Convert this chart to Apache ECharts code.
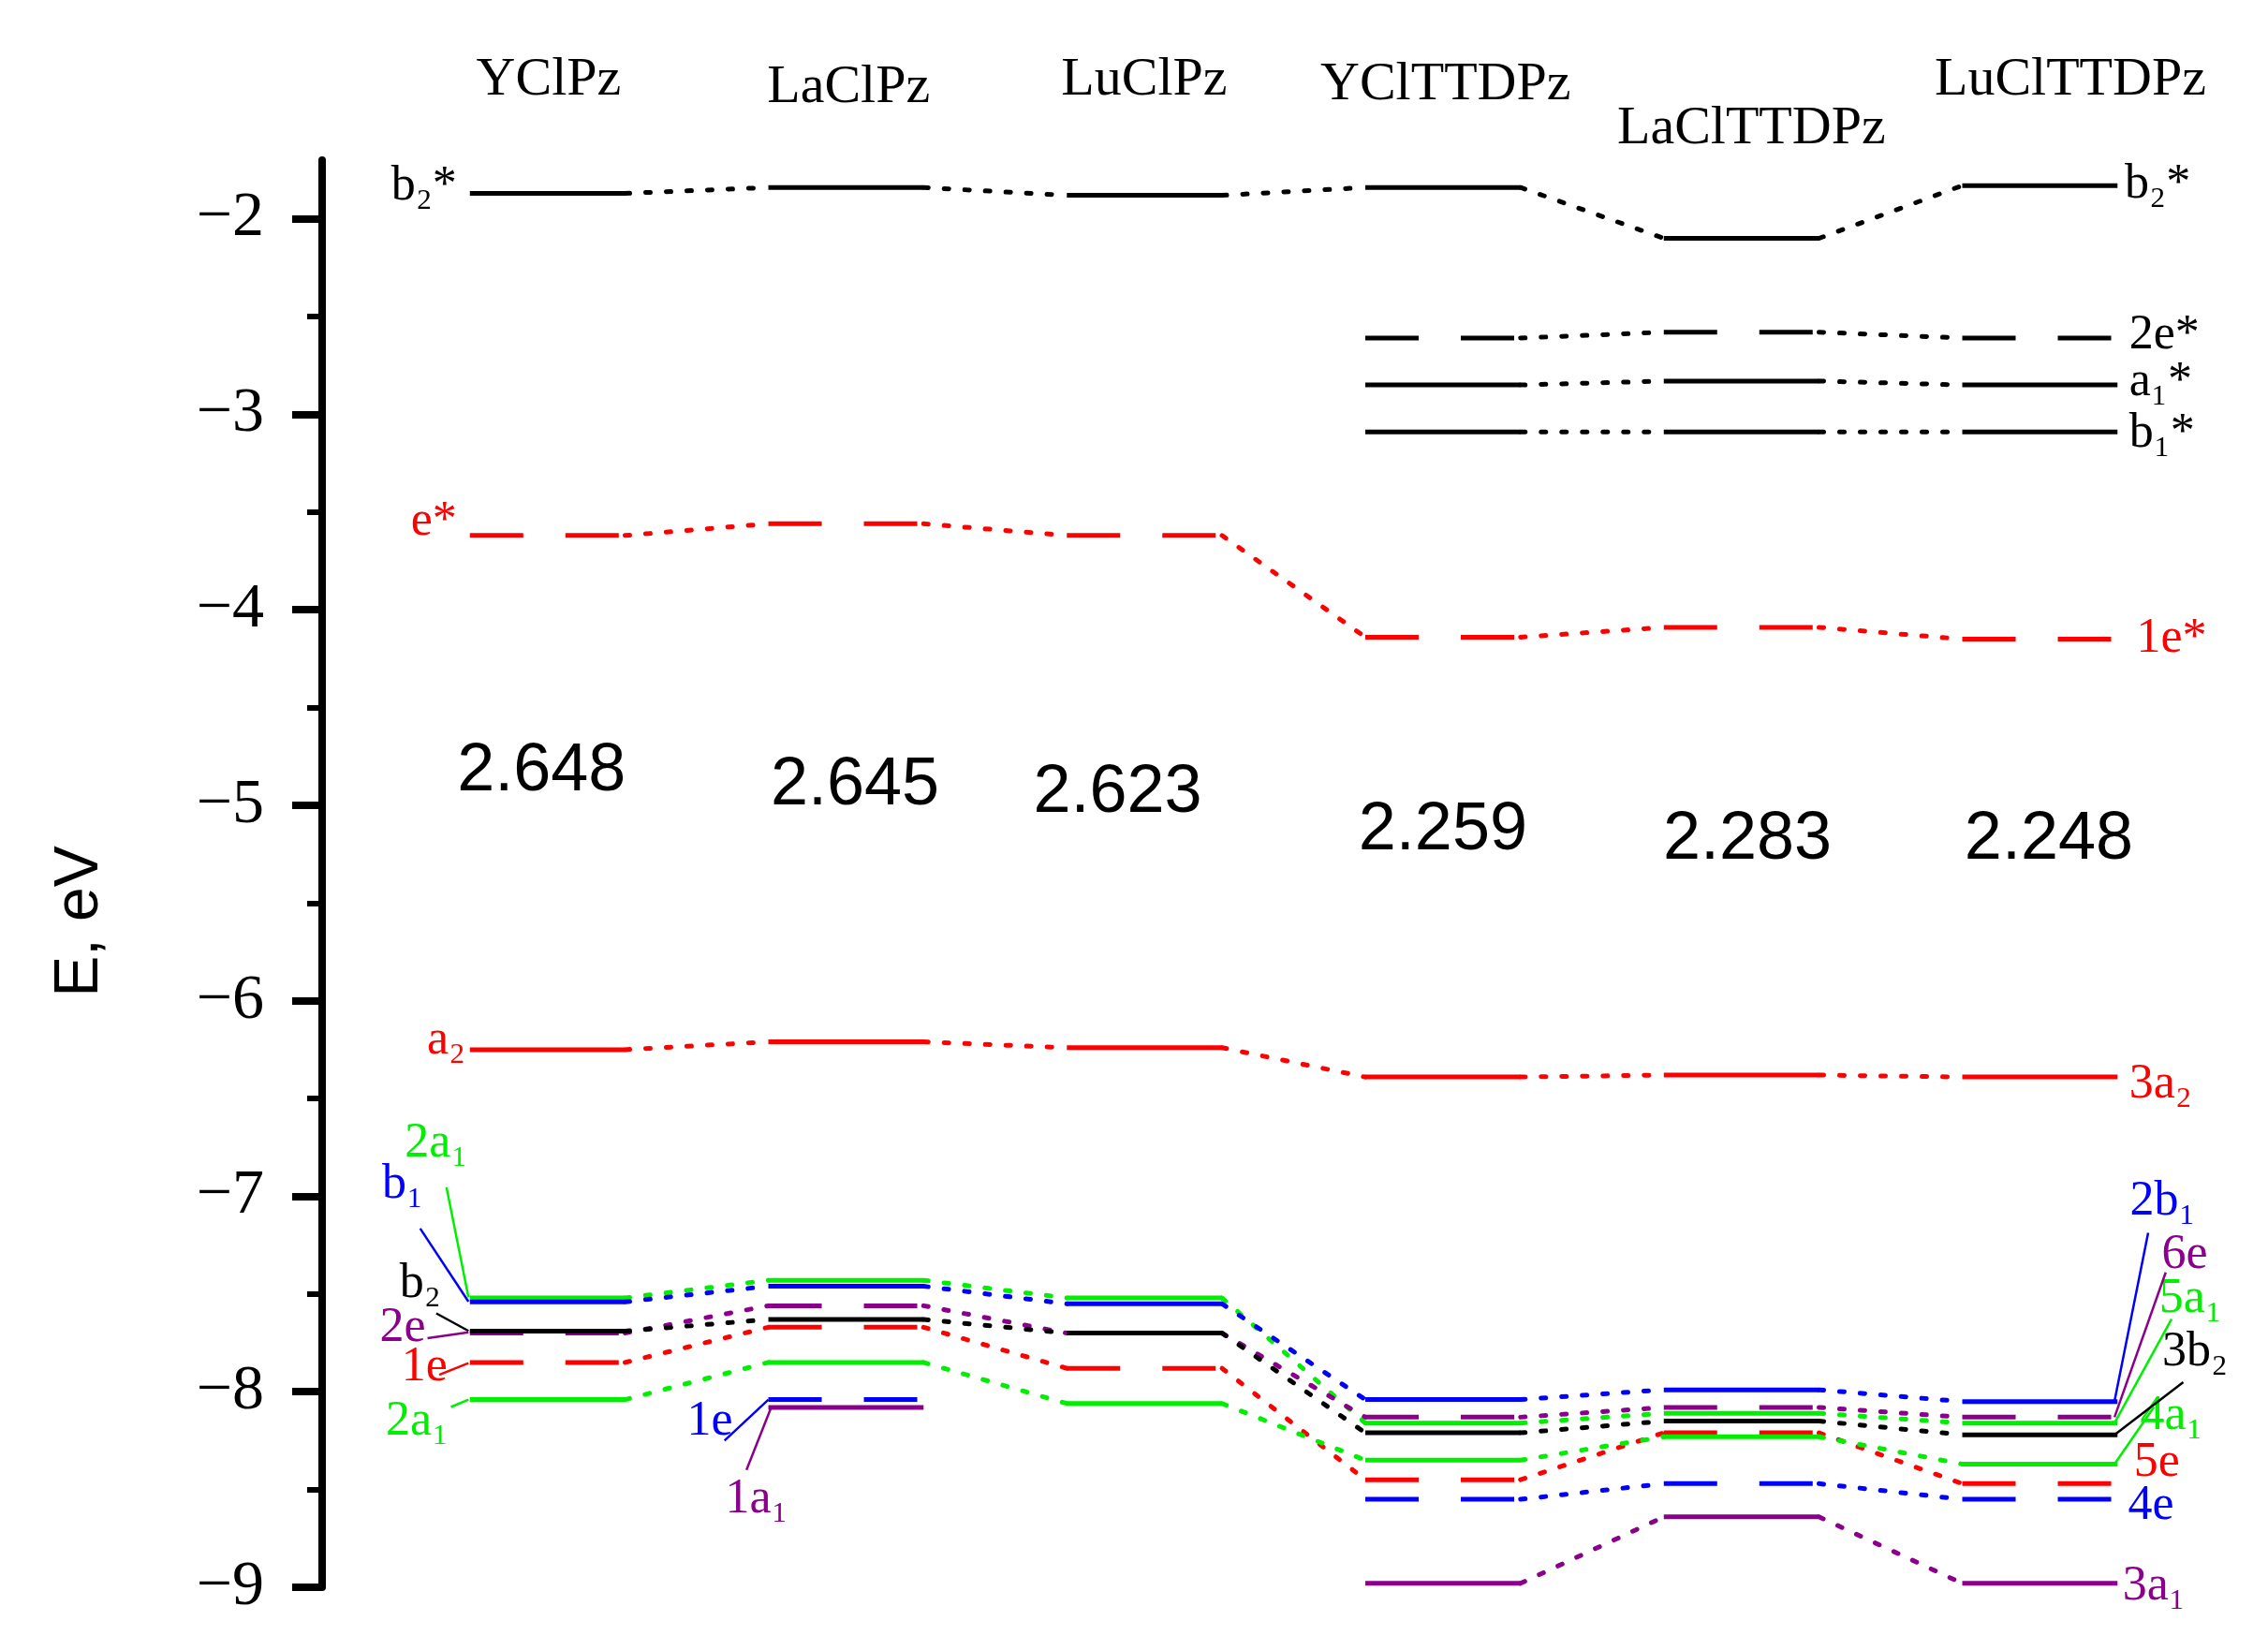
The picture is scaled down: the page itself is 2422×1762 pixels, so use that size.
<!DOCTYPE html>
<html><head><meta charset="utf-8">
<script src="https://cdn.jsdelivr.net/npm/echarts@6/dist/echarts.min.js"></script>
<style>html,body{margin:0;padding:0;background:#fff}#c{width:2422px;height:1762px}</style>
</head><body><div id="c"></div>
<script>
const compounds = ['YClPz','LaClPz','LuClPz','YClTTDPz','LaClTTDPz','LuClTTDPz'];
const gaps = [2.648, 2.645, 2.623, 2.259, 2.283, 2.248];
const gapE = [-4.83, -4.90, -4.94, -5.13, -5.18, -5.18];
const b2star = [-1.87,-1.84,-1.88,-1.84,-2.10,-1.83];
const e2star = [null,null,null,-2.61,-2.58,-2.61];
const a1star = [null,null,null,-2.85,-2.83,-2.85];
const b1star = [null,null,null,-3.09,-3.09,-3.09];
const estar  = [-3.62,-3.56,-3.62,-4.14,-4.09,-4.15];
const a2     = [-6.25,-6.21,-6.24,-6.39,-6.38,-6.39];
const a1up   = [-7.52,-7.43,-7.52,-8.16,-8.11,-8.16];
const b1     = [-7.54,-7.46,-7.55,-8.04,-7.99,-8.05];
const b2     = [-7.69,-7.63,-7.70,-8.21,-8.15,-8.22];
const e2     = [-7.70,-7.56,-7.70,-8.13,-8.08,-8.13];
const e1     = [-7.85,-7.67,-7.88,-8.45,-8.21,-8.47];
const a1low  = [-8.04,-7.85,-8.06,-8.35,-8.23,-8.37];
const e1b    = [null,-8.04,null,-8.55,-8.47,-8.55];
const a1p    = [null,-8.08,null,-8.98,-8.64,-8.98];
const yTicks = [-9,-8,-7,-6,-5,-4,-3,-2];

const BK='#000', RD='#ff0000', GR='#00ee00', BL='#0000ff', PU='#8b008b';
const orbitals = [
 [b2star,BK,false],[e2star,BK,true],[a1star,BK,false],[b1star,BK,false],
 [estar,RD,true],[a2,RD,false],[a1up,GR,false],[b1,BL,false],[e2,PU,true],[b2,BK,false],
 [e1,RD,true],[a1low,GR,false],[e1b,BL,true],[a1p,PU,false]
];
const HW = 0.26;
const series = [];
orbitals.forEach(([vals,col,dash])=>{
  vals.forEach((v,i)=>{
    if(v==null) return;
    series.push({type:'line',data:[[i-HW,v],[i+HW,v]],symbol:'none',silent:true,
      lineStyle:{color:col,width:5,type:dash?[57,45]:'solid'}});
    const n = vals[i+1];
    if(i<5 && n!=null){
      series.push({type:'line',data:[[i+HW,v],[i+1-HW,n]],symbol:'none',silent:true,
        lineStyle:{color:col,width:5,type:[5,17],cap:'round'}});
    }
  });
});
const dx = xd => (xd-374)/204, de = yd => -2-(yd-150)/133.6;
const labels = [
 ['b₂*',BK,312,128,'right'],['e*',RD,312,357,'right'],['a₂',RD,318,712,'right'],
 ['2a₁',GR,298,782,'center'],['b₁',BL,275,810,'center'],['b₂',BK,287,878,'center'],
 ['2e',PU,275,908,'center'],['1e',RD,290,935,'center'],['2a₁',GR,285,972,'center'],
 ['1e',BL,485,972,'center'],['1a₁',PU,517,1025,'center'],
 ['b₂*',BK,1452,127,'left'],['2e*',BK,1455,230,'left'],['a₁*',BK,1455,262,'left'],
 ['b₁*',BK,1455,297,'left'],['1e*',RD,1460,437,'left'],['3a₂',RD,1455,742,'left'],
 ['2b₁',BL,1478,822,'center'],['6e',PU,1493,858,'center'],['5a₁',GR,1497,888,'center'],
 ['3b₂',BK,1500,925,'center'],['4a₁',GR,1484,968,'center'],['5e',RD,1474,1000,'center'],
 ['4e',BL,1470,1030,'center'],['3a₁',PU,1472,1085,'center']
];
const leaders = [
 [GR,305,812,320,887],[BL,287,840,320,890],[BK,298,898,320,910],[PU,292,915,320,911],
 [RD,300,940,320,932],[GR,308,962,320,957],[BL,495,985,525,957],[PU,510,1005,527,962],
 [BL,1468,843,1445,958],[PU,1480,870,1445,969],[GR,1484,902,1445,973],
 [BK,1492,945,1445,981],[GR,1472,962,1445,1001]
];
leaders.forEach(([c,x1,y1,x2,y2])=>series.push({type:'line',symbol:'none',silent:true,
  data:[[dx(x1),de(y1)],[dx(x2),de(y2)]],lineStyle:{color:c,width:2.5}}));

const chart = echarts.init(document.getElementById('c'));
chart.setOption({
  animation:false,
  grid:{left:344,right:31,top:171,bottom:67},
  xAxis:{type:'value',min:-0.755,max:5.667,show:false},
  yAxis:{type:'value',min:-9,max:-1.7,interval:1,
    axisLine:{show:true,onZero:false,lineStyle:{color:'#000',width:8}},
    axisTick:{show:true,length:32,lineStyle:{width:8,color:'#000'},customValues:yTicks},
    minorTick:{show:true,splitNumber:2,length:16,lineStyle:{width:6,color:'#000'}},
    splitLine:{show:false},
    axisLabel:{customValues:yTicks,fontFamily:'Liberation Serif',fontSize:68,color:'#000',margin:62,
      formatter:v=>String(v).replace('-','−')}},
  series
});
const g = [];
const P = (x,e)=>chart.convertToPixel({gridIndex:0},[x,e]);
labels.forEach(([t,c,xd,yd,al])=>{
  const p=P(dx(xd),de(yd));
  g.push({type:'text',x:p[0],y:p[1],style:{text:t,fill:c,font:'52px "Liberation Serif"',align:al,verticalAlign:'middle'}});
});
gaps.forEach((v,i)=>{
  const off=[-0.02,0.03,-0.09,0,0.02,0.03][i];
  const q=P(i+off,gapE[i]);
  g.push({type:'text',x:q[0],y:q[1],style:{text:v.toFixed(3),fill:'#000',font:'72px "Liberation Sans"',align:'center',verticalAlign:'middle'}});
});
const titlePos=[[375,55],[580,60],[782,55],[988,58],[1197,88],[1415,55]];
compounds.forEach((t,i)=>{
  g.push({type:'text',x:titlePos[i][0]*1.5625,y:titlePos[i][1]*1.5625,style:{text:t,fill:'#000',font:'58px "Liberation Serif"',align:'center',verticalAlign:'middle'}});
});
g.push({type:'text',x:86,y:984,rotation:Math.PI/2,style:{text:'E, eV',fill:'#000',font:'66px "Liberation Sans"',align:'center',verticalAlign:'middle'}});
chart.setOption({graphic:g});
</script></body></html>
